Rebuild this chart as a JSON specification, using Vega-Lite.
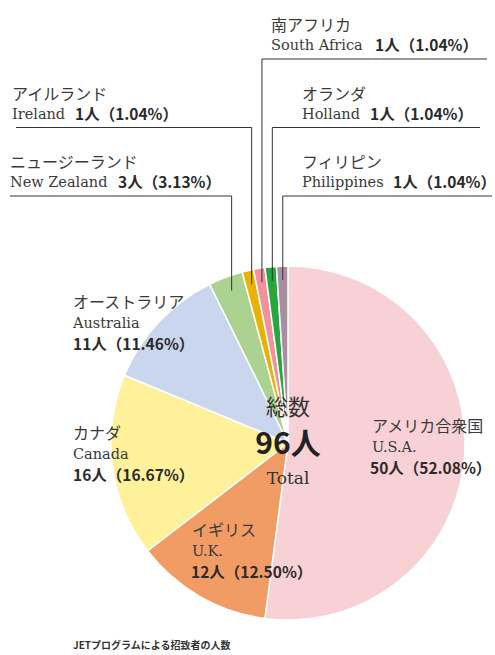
{
  "$schema": "https://vega.github.io/schema/vega-lite/v6.json",
  "width": 495,
  "height": 655,
  "autosize": {"type": "none"},
  "padding": 0,
  "background": "white",
  "view": {"stroke": null},
  "title": {
    "text": "JETプログラムによる招致者の人数",
    "orient": "bottom",
    "anchor": "start",
    "dx": 73,
    "offset": -14,
    "fontSize": 10,
    "font": "Noto Sans CJK JP",
    "fontWeight": "bold",
    "color": "#333333"
  },
  "data": {
    "values": [
      {"ja": "アメリカ合衆国", "en": "U.S.A.", "count": 50, "pct": 52.08},
      {"ja": "イギリス", "en": "U.K.", "count": 12, "pct": 12.50},
      {"ja": "カナダ", "en": "Canada", "count": 16, "pct": 16.67},
      {"ja": "オーストラリア", "en": "Australia", "count": 11, "pct": 11.46},
      {"ja": "ニュージーランド", "en": "New Zealand", "count": 3, "pct": 3.13},
      {"ja": "アイルランド", "en": "Ireland", "count": 1, "pct": 1.04},
      {"ja": "南アフリカ", "en": "South Africa", "count": 1, "pct": 1.04},
      {"ja": "オランダ", "en": "Holland", "count": 1, "pct": 1.04},
      {"ja": "フィリピン", "en": "Philippines", "count": 1, "pct": 1.04}
    ]
  },
  "transform": [
    {"window": [{"op": "row_number", "as": "idx"}]},
    {"joinaggregate": [{"op": "sum", "field": "count", "as": "total"}]},
    {"window": [{"op": "sum", "field": "count", "as": "cum"}], "sort": [{"field": "idx"}], "frame": [null, 0]},
    {"calculate": "2*PI*(datum.cum - datum.count/2)/datum.total", "as": "mid"},
    {"calculate": "datum.count + '人（' + format(datum.pct, '.2f') + '%）'", "as": "countLabel"},
    {"calculate": "3 - abs(datum.idx - 7)", "as": "level"},
    {"calculate": "247 + (datum.level - 1) * 68.5", "as": "underY"},
    {"calculate": "sin(datum.mid) * 160", "as": "lx"},
    {"calculate": "cos(datum.mid) * 163", "as": "by"},
    {"calculate": "[84,-96,-215,-215,-278,-276,-17,14,14][datum.idx-1]", "as": "tx"},
    {"calculate": "datum.idx <= 4 ? [-5,-109,-12,119][datum.idx-1] : datum.underY + 13", "as": "ty"},
    {"calculate": "datum.ty + (datum.idx <= 4 ? 21 : 20)", "as": "jy"},
    {"calculate": "[82,-97,-215,-215,-170,-213,87,82,105][datum.idx-1]", "as": "cx"},
    {"calculate": "datum.idx <= 4 ? datum.ty - 21 : datum.ty", "as": "cy"}
  ],
  "layer": [
    {
      "mark": {"type": "arc", "radius": 177, "stroke": "white", "strokeWidth": 1.5},
      "encoding": {
        "theta": {"field": "count", "type": "quantitative", "stack": true},
        "order": {"field": "idx", "type": "quantitative"},
        "color": {
          "field": "en",
          "type": "nominal",
          "legend": null,
          "scale": {
            "domain": ["U.S.A.", "U.K.", "Canada", "Australia", "New Zealand", "Ireland", "South Africa", "Holland", "Philippines"],
            "range": ["#f7d1d5", "#f19c65", "#fff19a", "#c9d6ee", "#abd28f", "#e9b100", "#f0919c", "#25a83d", "#a98e9f"]
          }
        },
        "x": {"datum": 0, "type": "quantitative", "scale": {"domain": [-288, 207], "nice": false, "zero": false}, "axis": null},
        "y": {"datum": 0, "type": "quantitative", "scale": {"domain": [-212, 443], "nice": false, "zero": false}, "axis": null}
      }
    },
    {
      "transform": [{"filter": "datum.idx >= 5"}],
      "mark": {"type": "rule", "color": "#333333", "strokeWidth": 1},
      "encoding": {
        "x": {"field": "lx", "type": "quantitative", "scale": {"domain": [-288, 207], "nice": false, "zero": false}, "axis": null},
        "y": {"field": "by", "type": "quantitative", "scale": {"domain": [-212, 443], "nice": false, "zero": false}, "axis": null},
        "y2": {"field": "underY"}
      }
    },
    {
      "transform": [
        {"filter": "datum.idx >= 5"},
        {"calculate": "datum.idx < 7 ? (datum.idx == 5 ? -278 : -272) : datum.lx", "as": "hx1"},
        {"calculate": "datum.idx < 7 ? datum.lx : [199,192,204][datum.idx-7]", "as": "hx2"}
      ],
      "mark": {"type": "rule", "color": "#333333", "strokeWidth": 1},
      "encoding": {
        "x": {"field": "hx1", "type": "quantitative", "scale": {"domain": [-288, 207], "nice": false, "zero": false}, "axis": null},
        "x2": {"field": "hx2"},
        "y": {"field": "underY", "type": "quantitative", "scale": {"domain": [-212, 443], "nice": false, "zero": false}, "axis": null}
      }
    },
    {
      "mark": {"type": "text", "align": "left", "baseline": "middle", "font": "Noto Sans CJK JP", "fontSize": 16, "color": "#3a3a3a"},
      "encoding": {
        "x": {"field": "tx", "type": "quantitative", "scale": {"domain": [-288, 207], "nice": false, "zero": false}, "axis": null},
        "y": {"field": "jy", "type": "quantitative", "scale": {"domain": [-212, 443], "nice": false, "zero": false}, "axis": null},
        "text": {"field": "ja"}
      }
    },
    {
      "mark": {"type": "text", "align": "left", "baseline": "middle", "font": "DejaVu Serif", "fontSize": 14.5, "color": "#3a3a3a"},
      "encoding": {
        "x": {"field": "tx", "type": "quantitative", "scale": {"domain": [-288, 207], "nice": false, "zero": false}, "axis": null},
        "y": {"field": "ty", "type": "quantitative", "scale": {"domain": [-212, 443], "nice": false, "zero": false}, "axis": null},
        "text": {"field": "en"}
      }
    },
    {
      "mark": {"type": "text", "align": "left", "baseline": "middle", "font": "Noto Sans CJK JP", "fontWeight": "bold", "fontSize": 15.5, "color": "#2b2b2b"},
      "encoding": {
        "x": {"field": "cx", "type": "quantitative", "scale": {"domain": [-288, 207], "nice": false, "zero": false}, "axis": null},
        "y": {"field": "cy", "type": "quantitative", "scale": {"domain": [-212, 443], "nice": false, "zero": false}, "axis": null},
        "text": {"field": "countLabel"}
      }
    },
    {
      "transform": [
        {"aggregate": [{"op": "sum", "field": "count", "as": "sumCount"}]},
        {"calculate": "datum.sumCount + '人'", "as": "totalLabel"}
      ],
      "encoding": {
        "x": {"datum": 0, "type": "quantitative", "scale": {"domain": [-288, 207], "nice": false, "zero": false}, "axis": null},
        "y": {"datum": 0, "type": "quantitative", "scale": {"domain": [-212, 443], "nice": false, "zero": false}, "axis": null}
      },
      "layer": [
        {
          "mark": {"type": "text", "align": "center", "baseline": "middle", "dy": -35, "font": "Noto Sans CJK JP", "fontSize": 22, "color": "#333333"},
          "encoding": {"text": {"value": "総数"}}
        },
        {
          "mark": {"type": "text", "align": "center", "baseline": "middle", "dy": 2, "font": "Noto Sans CJK JP", "fontWeight": "bold", "fontSize": 30, "color": "#222222"},
          "encoding": {"text": {"field": "totalLabel"}}
        },
        {
          "mark": {"type": "text", "align": "center", "baseline": "middle", "dy": 36, "font": "DejaVu Serif", "fontSize": 17, "color": "#333333"},
          "encoding": {"text": {"value": "Total"}}
        }
      ]
    }
  ]
}
